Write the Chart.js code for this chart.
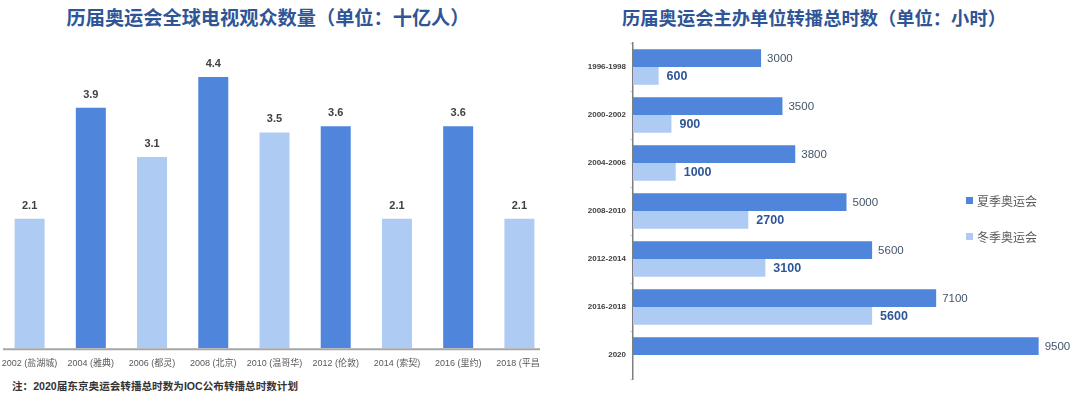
<!DOCTYPE html>
<html>
<head>
<meta charset="utf-8">
<script src="https://cdn.jsdelivr.net/npm/chart.js@4"></script>
<style>
  html, body { margin: 0; padding: 0; background: #ffffff; }
  body { width: 1080px; height: 397px; position: relative; overflow: hidden;
         font-family: "Liberation Sans", "Noto Sans CJK SC", sans-serif; }
  .title { position: absolute; top: 4px; font-weight: bold; color: #2F5597;
           font-family: "Noto Sans CJK SC", sans-serif; white-space: nowrap; text-align: center; line-height: 26px; }
  #leftWrap { position: absolute; left: 0; top: 0; width: 540px; height: 371px; overflow: hidden; }
  #left { position: absolute; left: -1px; top: 0; }
  #rightWrap { position: absolute; left: 540px; top: 0; width: 540px; height: 397px; }
  #note { position: absolute; left: 12px; top: 378px; font-size: 10.6px; font-weight: bold; color: #333;
          font-family: "Liberation Sans", "Noto Sans CJK SC", sans-serif; white-space: nowrap; }
</style>
</head>
<body>
<div class="title" style="left:3px; width:530px; font-size:19.2px;">历届奥运会全球电视观众数量（单位：十亿人）</div>
<div class="title" style="left:544px; width:540px; font-size:18.3px;">历届奥运会主办单位转播总时数（单位：小时）</div>
<div id="leftWrap"><canvas id="left" width="551" height="371" style="width:551px;height:371px;"></canvas></div>
<div id="rightWrap"><canvas id="right" width="540" height="397" style="width:540px;height:397px;"></canvas></div>
<div id="note">注：2020届东京奥运会转播总时数为IOC公布转播总时数计划</div>
<script>
// ---------- data ----------
const viewerCategories = ["2002 (盐湖城)", "2004 (雅典)", "2006 (都灵)", "2008 (北京)", "2010 (温哥华)",
                          "2012 (伦敦)", "2014 (索契)", "2016 (里约)", "2018 (平昌)"];
const viewerValues = [2.1, 3.9, 3.1, 4.4, 3.5, 3.6, 2.1, 3.6, 2.1];
const viewerIsSummer = [false, true, false, true, false, true, false, true, false];

const hourCategories = ["1996-1998", "2000-2002", "2004-2006", "2008-2010", "2012-2014", "2016-2018", "2020"];
const summerHours = [3000, 3500, 3800, 5000, 5600, 7100, 9500];
const winterHours = [600, 900, 1000, 2700, 3100, 5600, null];
const seriesNames = ["夏季奥运会", "冬季奥运会"];

// ---------- styles ----------
const DARK = "#4F86DB";
const LIGHT = "#AECBF3";
const LATIN = "'Liberation Sans', 'Noto Sans CJK SC', sans-serif";

// ---------- left chart ----------
const leftLabels = {
  id: "leftLabels",
  afterDatasetsDraw(chart) {
    const ctx = chart.ctx;
    const meta = chart.getDatasetMeta(0);
    ctx.save();
    ctx.font = "bold 11px " + LATIN;
    ctx.fillStyle = "#404040";
    ctx.textAlign = "center";
    ctx.textBaseline = "middle";
    meta.data.forEach((el, i) => {
      ctx.fillText(viewerValues[i].toFixed(1), el.x, el.y - 13);
    });
    // baseline drawn over bars
    const a = chart.chartArea;
    ctx.strokeStyle = "#A6A6A6";
    ctx.lineWidth = 2;
    ctx.beginPath();
    ctx.moveTo(a.left + 4, a.bottom + 1);
    ctx.lineTo(a.right, a.bottom + 1);
    ctx.stroke();
    ctx.restore();
  }
};

new Chart(document.getElementById("left"), {
  type: "bar",
  data: {
    labels: viewerCategories,
    datasets: [{
      data: viewerValues,
      backgroundColor: viewerIsSummer.map(s => s ? DARK : LIGHT),
      borderWidth: 0,
      categoryPercentage: 1,
      barPercentage: 0.49
    }]
  },
  options: {
    responsive: false,
    animation: false,
    devicePixelRatio: 1,
    layout: { padding: { top: 40, left: 0, right: 0, bottom: 0 } },
    plugins: { legend: { display: false }, tooltip: { enabled: false } },
    scales: {
      x: {
        grid: { display: false },
        border: { display: false },
        ticks: { color: "#595959", font: { size: 9, family: LATIN }, padding: 2, maxRotation: 0, autoSkip: false }
      },
      y: { display: false, min: 0, max: 5 }
    }
  },
  plugins: [leftLabels]
});

// ---------- right chart ----------
const rightExtras = {
  id: "rightExtras",
  afterDatasetsDraw(chart) {
    const ctx = chart.ctx;
    ctx.save();
    ctx.textAlign = "left";
    ctx.textBaseline = "middle";
    const m0 = chart.getDatasetMeta(0);
    m0.data.forEach((el, i) => {
      if (summerHours[i] == null) return;
      ctx.font = "11.5px " + LATIN;
      ctx.fillStyle = "#44546A";
      ctx.fillText(String(summerHours[i]), el.x + 6, el.y + 1);
    });
    const m1 = chart.getDatasetMeta(1);
    m1.data.forEach((el, i) => {
      if (winterHours[i] == null) return;
      ctx.font = "bold 12.5px " + LATIN;
      ctx.fillStyle = "#2F5597";
      ctx.fillText(String(winterHours[i]), el.x + 8, el.y + 1);
    });
    // legend
    const lx = 426, ly = [201, 237];
    chart.data.datasets.forEach((ds, i) => {
      ctx.fillStyle = ds.backgroundColor;
      ctx.fillRect(lx, ly[i] - 4, 7, 7);
      ctx.font = "12px 'Noto Sans CJK SC', sans-serif";
      ctx.fillStyle = "#595959";
      ctx.fillText(ds.label, lx + 11, ly[i]);
    });
    ctx.restore();
  }
};

new Chart(document.getElementById("right"), {
  type: "bar",
  data: {
    labels: hourCategories,
    datasets: [
      { label: seriesNames[0], data: summerHours, backgroundColor: DARK, borderWidth: 0,
        categoryPercentage: 0.74, barPercentage: 1 },
      { label: seriesNames[1], data: winterHours, backgroundColor: LIGHT, borderWidth: 0,
        categoryPercentage: 0.74, barPercentage: 1 }
    ]
  },
  options: {
    indexAxis: "y",
    responsive: false,
    animation: false,
    devicePixelRatio: 1,
    layout: { padding: { top: 43, left: 0, right: 20, bottom: 18 } },
    plugins: { legend: { display: false }, tooltip: { enabled: false } },
    scales: {
      x: { display: false, min: 0, max: 10000 },
      y: {
        afterFit(scale) { scale.width = 93; },
        grid: { display: true, drawOnChartArea: false, drawTicks: true, tickLength: 3, color: "#D0D0D0" },
        border: { display: true, color: "#7F7F7F", width: 1.5 },
        ticks: { color: "#404040", font: { size: 8, weight: "bold", family: LATIN }, padding: 4 }
      }
    }
  },
  plugins: [rightExtras]
});
</script>
</body>
</html>
